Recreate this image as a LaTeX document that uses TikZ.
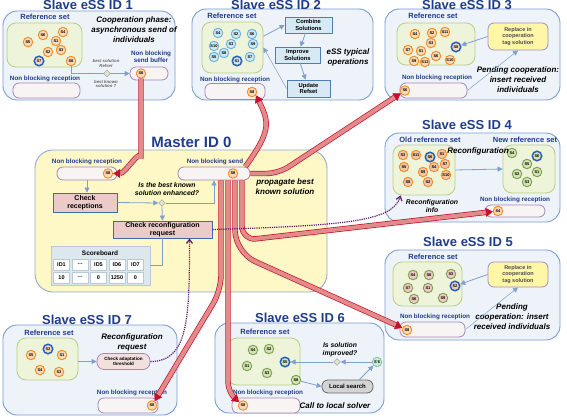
\documentclass[tikz,border=0pt]{standalone}
\usepackage{fontspec}
\setmainfont{Liberation Sans}
\usetikzlibrary{positioning,calc,shapes.geometric,arrows.meta}
\definecolor{ttlblue}{HTML}{1F3C88}
\definecolor{slbg}{HTML}{EEF3FA}
\definecolor{slbd}{HTML}{7A9CD3}
\definecolor{mstbg}{HTML}{FDF8C6}
\definecolor{mstbd}{HTML}{8FA9D4}
\definecolor{grbg}{HTML}{EEF4D9}
\definecolor{grbd}{HTML}{B6CE84}
\definecolor{orbg}{HTML}{FBD9B5}
\definecolor{orbd}{HTML}{F28C28}
\definecolor{ringbl}{HTML}{2B5FB8}
\definecolor{blbg}{HTML}{CFE7F3}
\definecolor{blbd}{HTML}{6DB3DB}
\definecolor{pcbg}{HTML}{F4C6A8}
\definecolor{gnbg}{HTML}{D3E3B3}
\definecolor{gnbd}{HTML}{7E9E50}
\definecolor{pkcbg}{HTML}{EFC9C4}
\definecolor{cybg}{HTML}{CDEBD9}
\definecolor{cybd}{HTML}{8AC8A8}
\definecolor{pilbg}{HTML}{F8F4F4}
\definecolor{pilbd}{HTML}{A486B8}
\definecolor{pkbg}{HTML}{EBCACA}
\definecolor{pkbd}{HTML}{3F6CAD}
\definecolor{opbg}{HTML}{D7E9F5}
\definecolor{opbd}{HTML}{4E7EB8}
\definecolor{ylbg}{HTML}{FFF7A6}
\definecolor{ylbd}{HTML}{A48BC8}
\definecolor{thrbg}{HTML}{F2E0DC}
\definecolor{flowbl}{HTML}{7F9FCC}
\definecolor{rdbd}{HTML}{C8102E}
\definecolor{rdin}{HTML}{E28B8B}
\definecolor{purp}{HTML}{5B1A6B}
\definecolor{dmbg}{HTML}{DDE5CF}
\definecolor{sbbg}{HTML}{DDE7EE}
\definecolor{sbbd}{HTML}{B9C9D6}

\begin{document}
\begin{tikzpicture}[x=1pt,y=-1pt,
  slave/.style={draw=slbd,fill=slbg,rounded corners=14pt,line width=0.9pt,inner sep=0pt},
  master/.style={draw=mstbd,fill=mstbg,rounded corners=18pt,line width=0.9pt,inner sep=0pt},
  ttl/.style={text=ttlblue,inner sep=0pt,font=\fontsize{13}{13}\selectfont\bfseries},
  lbl/.style={text=ttlblue,inner sep=0pt,align=center,font=\fontsize{6.3}{7.5}\selectfont\bfseries},
  reflbl/.style={text=ttlblue,inner sep=0pt,font=\fontsize{7.5}{8}\selectfont\bfseries},
  refset/.style={draw=grbd,fill=grbg,rounded corners=9pt,line width=0.8pt,inner sep=0pt},
  sol/.style={circle,draw=orbd,fill=orbg,line width=0.9pt,inner sep=0pt,minimum size=9.5pt,font=\fontsize{4}{4}\selectfont\bfseries},
  solb/.style={sol,draw=blbd,fill=blbg},
  solp/.style={sol,fill=pcbg},
  solg/.style={sol,draw=gnbd,fill=gnbg},
  solk/.style={sol,draw=gnbd,fill=pkcbg},
  solc/.style={sol,draw=cybd,fill=cybg},
  best/.style={draw=ringbl,line width=1.5pt},
  pill/.style={draw=pilbd,fill=pilbg,rounded corners=6pt,line width=0.8pt,inner sep=0pt},
  note/.style={align=center,inner sep=0pt,font=\fontsize{8}{10}\selectfont\bfseries\itshape},
  nt7/.style={align=center,inner sep=0pt,font=\fontsize{6.8}{8.2}\selectfont\bfseries\itshape},
  tiny/.style={align=center,inner sep=0pt,text=black!60,font=\fontsize{4.3}{4.9}\selectfont\bfseries\itshape},
  opbox/.style={draw=opbd,fill=opbg,line width=0.8pt,align=center,inner sep=0pt,font=\fontsize{5.8}{6.6}\selectfont\bfseries},
  pinkbox/.style={draw=pkbd,fill=pkbg,line width=0.9pt,align=center,inner sep=0pt,font=\fontsize{7}{8}\selectfont\bfseries},
  yelbox/.style={draw=ylbd,fill=ylbg,rounded corners=6pt,line width=0.8pt,align=center,inner sep=0pt,text=black!70,font=\fontsize{5.5}{6.5}\selectfont\bfseries},
  thrbox/.style={draw=pilbd,fill=thrbg,rounded corners=7pt,line width=0.8pt,align=center,inner sep=0pt,font=\fontsize{4.6}{5.6}\selectfont\bfseries},
  lsbox/.style={draw=black!60,fill=black!17,rounded corners=6pt,line width=0.8pt,inner sep=0pt,font=\fontsize{6}{6}\selectfont\bfseries},
  board/.style={draw=sbbd,fill=sbbg,line width=0.8pt,inner sep=0pt},
  cell/.style={draw=sbbd,fill=white,line width=0.6pt,minimum width=16pt,minimum height=11pt,inner sep=0pt,font=\fontsize{5.5}{5.5}\selectfont\bfseries},
  dmd/.style={diamond,draw=black!40,fill=dmbg,inner sep=0pt,minimum size=7pt},
  flow/.style={draw=flowbl,line width=0.8pt,-{Triangle[length=5pt,width=5pt]}},
  flowline/.style={draw=flowbl,line width=0.8pt},
  send/.style={draw=rdbd,line width=0.7pt,double=rdin,double distance=4pt,-{Triangle[length=7pt,width=9pt]}},
  reconf/.style={draw=purp,line width=1.2pt,densely dotted,-{Straight Barb[length=4pt,width=6pt]}}]
\useasboundingbox (0,0) rectangle (567,417);

% Slave eSS ID 1
\node[slave,minimum width=172pt,minimum height=89pt] (sl1) at (89,55.5) {};
\node[ttl] (t1) at (88,5) {Slave eSS ID 1};
\node[reflbl] (rl1) at (45,17) {Reference set};
\node[refset,minimum width=75pt,minimum height=44pt] (ref1) at (44.5,45) {};
\foreach \s/\x/\y in {6/43/35,4/63/32,1/56/41,5/28/42,2/48/52,3/61/50,8/71/61}
  \node[sol] (r1s\s) at (\x,\y) {S\s};
\node[sol,best] (r1s7) at (39,61) {S7};
\node[note] (n1) at (134,30) {Cooperation phase:\\asynchronous send of\\individuals};
\node[lbl] (bl1) at (151,56.5) {Non blocking\\send buffer};
\node[pill,minimum width=38pt,minimum height=13pt] (buf1) at (149,73.5) {};
\node[sol] (b1s8) at (141,73.5) {S8};
\draw[flow] (r1s8.south) |- (buf1.west);
\node[dmd] (d1) at (107,73.5) {};
\node[tiny] (q1) at (106,63.5) {best solution\\Refset};
\node[tiny] (q2) at (106,84) {best known\\solution ?};
\node[lbl] (nl1) at (45,79) {Non blocking reception};
\node[pill,minimum width=67pt,minimum height=15pt] (in1) at (46.5,90.5) {};

% Slave eSS ID 2
\node[slave,minimum width=181pt,minimum height=91pt] (sl2) at (282.5,54.5) {};
\node[ttl] (t2) at (276,5) {Slave eSS ID 2};
\node[reflbl] (rl2) at (232,16) {Reference set};
\node[refset,minimum width=61pt,minimum height=51pt] (ref2) at (232.5,47.5) {};
\foreach \s/\x/\y in {4/218/33,2/236/34,6/252/34,10/214/46,3/231/44,9/253/44,8/224/53,5/214/57,7/250/57}
  \node[solb] (r2s\s) at (\x,\y) {S\s};
\node[solb,best] (r2s1) at (237,61) {S1};
\node[opbox,minimum width=47pt,minimum height=16pt] (comb) at (308.5,25) {Combine\\Solutions};
\node[opbox,minimum width=45pt,minimum height=16pt] (impr) at (297.5,55) {Improve\\Solutions};
\node[opbox,minimum width=43pt,minimum height=17pt] (upd) at (308.5,88.5) {Update\\Refset};
\draw[flow] (ref2.20) -- (comb.west);
\draw[flow] (comb) -- (impr);
\draw[flow] (impr) -- (upd);
\draw[flow,line width=0.5pt] (upd.west) -- (ref2.east);
\node[note] (n2) at (348,57) {eSS typical\\operations};
\node[lbl] (nl2) at (235,80) {Non blocking reception};
\node[pill,minimum width=60pt,minimum height=16pt] (in2) at (235,91.5) {};
\node[sol] (s2in) at (252,92) {S8};

% Slave eSS ID 3
\node[slave,minimum width=175pt,minimum height=91pt] (sl3) at (472.5,54.5) {};
\node[ttl] (t3) at (467,5) {Slave eSS ID 3};
\node[reflbl] (rl3) at (433,16) {Reference set};
\node[refset,minimum width=78pt,minimum height=42pt] (ref3) at (436,44) {};
\foreach \s/\x/\y in {4/415/34,2/432/33,11/445/32,3/431/43,7/408/50,1/421/51,6/436/56,9/414/61,12/425/62,10/450/60}
  \node[sol] (r3s\s) at (\x,\y) {S\s};
\node[sol,best] (r3s8) at (456,47) {S8};
\node[yelbox,minimum width=60pt,minimum height=27pt] (rep3) at (518,36.5) {Replace in\\cooperation\\tag solution};
\draw[flow] (rep3.west) -- (r3s8);
\node[note] (n3) at (518,80) {Pending cooperation:\\insert received\\individuals};
\node[lbl] (nl3) at (437,78) {Non blocking reception};
\node[pill,minimum width=67pt,minimum height=15pt] (in3) at (433.5,90.5) {};
\node[sol] (s3in) at (405,90.5) {S6};
\draw[flow,line width=0.5pt] (in3.east) -- (rep3.south);

% Slave eSS ID 4
\node[slave,minimum width=175pt,minimum height=89pt] (sl4) at (472.5,177.5) {};
\node[ttl] (t4) at (467,125) {Slave eSS ID 4};
\node[reflbl] (ol4) at (430,140) {Old reference set};
\node[reflbl] (nw4) at (525,140) {New reference set};
\node[refset,minimum width=62pt,minimum height=50pt] (old4) at (424,170) {};
\node[refset,minimum width=52pt,minimum height=48pt] (new4) at (529,169) {};
\foreach \s/\x/\y in {3/403/155,11/416/155,1/442/154,5/404/167,9/423/172,4/434/167,7/445/164,10/446/175,8/408/182,2/428/182}
  \node[solp] (o4s\s) at (\x,\y) {S\s};
\node[solp,best] (o4s6) at (430,157) {S6};
\foreach \s/\x/\y in {4/512/153,5/527/164,2/517/174,1/537/172,3/527/182}
  \node[solg] (w4s\s) at (\x,\y) {S\s};
\node[solg,best] (w4s6) at (537,156) {S6};
\draw[flow] (old4.east) -- (new4.west);
\node[note] (n4) at (478,151) {Reconfiguration};
\node[nt7] (n4b) at (432,206) {Reconfiguration\\info};
\node[lbl] (nl4) at (515,200) {Non blocking reception};
\node[pill,minimum width=60pt,minimum height=12pt] (in4) at (515,211) {};
\node[sol] (s4in) at (498,211) {S4};

% Slave eSS ID 5
\node[slave,minimum width=175pt,minimum height=90pt] (sl5) at (472.5,295) {};
\node[ttl] (t5) at (468,242) {Slave eSS ID 5};
\node[reflbl] (rl5) at (433,257) {Reference set};
\node[refset,minimum width=69pt,minimum height=44pt] (ref5) at (427.5,284) {};
\foreach \s/\x/\y in {4/413/275,8/429/275,3/451/274,7/408/288,1/428/288,6/414/299,9/443/298}
  \node[solk] (r5s\s) at (\x,\y) {S\s};
\node[solk,best] (r5s2) at (455,286) {S2};
\node[yelbox,minimum width=60pt,minimum height=25pt] (rep5) at (518,274.5) {Replace in\\cooperation\\tag solution};
\draw[flow] (rep5.west) -- (r5s2);
\node[note] (n5) at (512,317) {Pending\\cooperation: insert\\received individuals};
\node[lbl] (nl5) at (435,317) {Non blocking reception};
\node[pill,minimum width=65pt,minimum height=15pt] (in5) at (432.5,329.5) {};
\node[sol] (s5in) at (407,330) {S8};
\draw[flow,line width=0.5pt] (in5.east) -- (rep5.south);

% Slave eSS ID 6
\node[slave,minimum width=169pt,minimum height=90pt] (sl6) at (299.5,368) {};
\node[ttl] (t6) at (300,318) {Slave eSS ID 6};
\node[reflbl] (rl6) at (265,332) {Reference set};
\node[refset,minimum width=72pt,minimum height=47pt] (ref6) at (264,361.5) {};
\foreach \s/\x/\y in {4/253/350,2/269/349,1/247/366,3/267/373,8/296/380}
  \node[solg] (r6s\s) at (\x,\y) {S\s};
\node[solg,best] (r6s5) at (285,362) {S5};
\node[nt7] (n6) at (340,350) {Is solution\\improved?};
\node[dmd] (d6) at (337,362) {};
\node[solc] (s6x) at (377,362) {S'6};
\node[lsbox,minimum width=51pt,minimum height=13pt] (ls6) at (347.5,386.5) {Local search};
\draw[flow] (s6x) -- (d6);
\draw[flow] (d6) -- (r6s5);
\draw[flow] (r6s8) -- (ls6.west);
\draw[flow] (ls6.30) -- (s6x);
\node[lbl] (nl6) at (268,393) {Non blocking reception};
\node[pill,minimum width=68pt,minimum height=15pt] (in6) at (266,405.5) {};
\node[sol] (s6in) at (243,405.5) {S8};
\node[note] (n6b) at (335,406) {Call to local solver};

% Slave eSS ID 7
\node[slave,minimum width=174pt,minimum height=90pt] (sl7) at (90,370) {};
\node[ttl] (t7) at (87,320) {Slave eSS ID 7};
\node[reflbl] (rl7) at (49,333) {Reference set};
\node[refset,minimum width=61pt,minimum height=42pt] (ref7) at (47.5,359) {};
\foreach \s/\x/\y in {5/31/355,1/62/355,4/40/370,3/59/372}
  \node[sol] (r7s\s) at (\x,\y) {S\s};
\node[sol,best] (r7s2) at (48,349) {S2};
\node[note] (n7) at (132,342) {Reconfiguration\\request};
\node[thrbox,minimum width=53pt,minimum height=16pt] (thr) at (123.5,361.5) {Check adaptation\\threshold};
\draw[flow] (ref7.east |- thr.west) -- (thr.west);
\node[lbl] (nl7) at (132,393) {Non blocking reception};
\node[pill,minimum width=60pt,minimum height=15pt] (in7) at (128,405.5) {};
\node[sol] (s7in) at (152,405.5) {S8};

% Master ID 0
\node[master,minimum width=292pt,minimum height=142pt] (mst) at (181,221) {};
\node[ttl,font=\fontsize{15}{15}\selectfont\bfseries] (t0) at (191.5,142) {Master ID 0};
\node[lbl] (nl0) at (87,162) {Non blocking reception};
\node[pill,minimum width=60pt,minimum height=13pt] (mrecv) at (87,173.5) {};
\node[sol] (mrs) at (108,173.5) {S8};
\node[pinkbox,minimum width=64pt,minimum height=19pt] (chkrec) at (85,202.5) {Check\\receptions};
\node[dmd] (dm) at (162,203) {};
\node[nt7] (nq0) at (167,189) {Is the best known\\solution enhanced?};
\node[pinkbox,minimum width=99pt,minimum height=17pt] (chkcfg) at (162.5,229.5) {Check reconfiguration\\request};
\node[lbl] (nl0b) at (215,162) {Non blocking send};
\node[pill,minimum width=72pt,minimum height=13pt] (msend) at (214,173.5) {};
\node[sol] (mss) at (233,173.5) {S8};
\draw[flow] (mrecv.south) -- (mrecv.south |- chkrec.north);
\draw[flow] (chkrec.east) -- (dm.west);
\draw[flow] (dm.south) -- (chkcfg.north);
\draw[flow] (dm.east) -| (msend.south);
\node[board,minimum width=99pt,minimum height=39pt] (board) at (100.5,265.5) {};
\node[inner sep=0pt,font=\fontsize{6.5}{7}\selectfont\bfseries] (sbt) at (100,253) {Scoreboard};
\foreach \t/\v [count=\i] in {ID1/10,\dots/\dots,ID5/0,ID6/1250,ID7/0} {
  \node[cell] (c\i) at (43+18.5*\i,264.5) {\t};
  \node[cell] (v\i) at (43+18.5*\i,277.5) {\v};
}
\draw[flowline] (board.east) -| (chkcfg.south);
\node[note] (np0) at (285,187) {propagate best\\known solution};

% sends
\draw[send] (b1s8.south) -- ++(0,80) to[out=90,in=0] (mrs.east);
\draw[send] ($(msend.north east)+(-5,0)$) .. controls +(25,-35) and +(14,28) .. (s2in.-40);
\draw[send,rounded corners=12pt] (msend.east) -- ++(28,0) -- (s3in);
\draw[send,rounded corners=14pt] ($(msend.south)+(28,0)$) -- ++(0,60) -- (s4in);
\draw[send,rounded corners=22pt] ($(msend.south)+(21,0)$) -- ++(0,72) -- (s5in);
\draw[send,rounded corners=10pt] ($(msend.south)+(14,0)$) -- ++(0,212) -- (s6in);
\draw[send,rounded corners=15pt] ($(msend.south)+(7,0)$) -- ++(0,110) -- (s7in);

% reconfiguration
\draw[reconf] (chkcfg.east) .. controls +(140,-4) and +(-8,25) .. ($(old4.south west)+(8,0)$);
\draw[reconf] (thr.east) .. controls +(38,0) and +(0,80) .. ($(chkcfg.south)+(27,0)$);
\end{tikzpicture}
\end{document}
